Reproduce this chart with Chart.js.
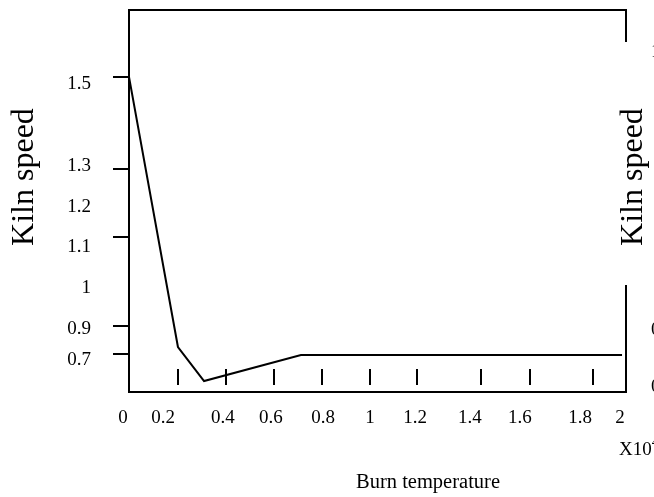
<!DOCTYPE html>
<html lang="en">
<head>
<meta charset="UTF-8" />
<title>Kiln speed</title>
<script src="https://cdn.jsdelivr.net/npm/chart.js"></script>
<style>
  html, body { margin: 0; padding: 0; background: #fff; }
  canvas { display: block; }
</style>
</head>
<body>
<canvas id="kiln" width="654" height="497"></canvas>
<script>
  // line data (x in units of 10^4)
  const burnTemp = [0, 0.197, 0.302, 0.692, 1.984];
  const kilnSpeed = [1.5, 0.723, 0.625, 0.70, 0.70];

  // tick labels and where they sit, in axis units
  const xTickLabels = ['0', '0.2', '0.4', '0.6', '0.8', '1', '1.2', '1.4', '1.6', '1.8', '2'];
  const xTickAt = [-0.024, 0.137, 0.378, 0.571, 0.781, 0.970, 1.151, 1.372, 1.573, 1.815, 1.976];
  const xMarks = [0.197, 0.390, 0.584, 0.777, 0.970, 1.159, 1.416, 1.614, 1.867];

  const yTickLabels = ['1.5', '1.3', '1.2', '1.1', '1', '0.9', '0.7'];
  const yTickAt = [1.480, 1.243, 1.126, 1.012, 0.894, 0.776, 0.685];
  const yMarks = [1.5, 1.235, 1.040, 0.784, 0.702];

  const y2TickLabels = ['1', '0.8', '0.6'];
  const y2TickAt = [1.572, 0.772, 0.608];

  const yMin = 0.5935, yMax = 1.6928;

  const serif = "'Liberation Serif', 'Times New Roman', serif";
  Chart.defaults.font.family = serif;
  Chart.defaults.color = '#000';

  const noPad = s => { s.paddingTop = 0; s.paddingBottom = 0; s.paddingLeft = 0; s.paddingRight = 0; };

  // frame pieces, inner tick marks and the titles
  const frame = {
    id: 'frame',
    afterDraw(chart) {
      const { ctx, chartArea: a, scales } = chart;
      ctx.save();
      ctx.strokeStyle = '#000';
      ctx.lineWidth = 2;
      ctx.beginPath();
      ctx.moveTo(a.left - 1, a.top); ctx.lineTo(a.right + 1, a.top);
      ctx.moveTo(a.right, a.top); ctx.lineTo(a.right, a.top + 32);
      ctx.moveTo(a.right, a.top + 275); ctx.lineTo(a.right, a.bottom + 1);
      yMarks.forEach(v => {
        const p = Math.round(scales.y.getPixelForValue(v));
        ctx.moveTo(a.left - 16, p); ctx.lineTo(a.left, p);
      });
      xMarks.forEach(v => {
        const p = Math.round(scales.x.getPixelForValue(v));
        ctx.moveTo(p, a.bottom - 23); ctx.lineTo(p, a.bottom - 7);
      });
      ctx.stroke();

      ctx.fillStyle = '#000';
      ctx.textBaseline = 'alphabetic';
      ctx.textAlign = 'center';
      ctx.font = '32px ' + serif;
      [33, 642].forEach(x => {
        ctx.save();
        ctx.translate(x, 177);
        ctx.rotate(-Math.PI / 2);
        ctx.fillText('Kiln speed', 0, 0);
        ctx.restore();
      });

      ctx.textAlign = 'left';
      ctx.font = '20.5px ' + serif;
      ctx.fillText('Burn temperature', 356, 488);
      ctx.font = '19px ' + serif;
      ctx.fillText('X10', 619, 455);
      const w = ctx.measureText('X10').width;
      ctx.font = '13px ' + serif;
      ctx.fillText('4', 619 + w, 446);
      ctx.restore();
    }
  };

  new Chart(document.getElementById('kiln'), {
    type: 'line',
    data: {
      datasets: [{
        data: burnTemp.map((x, i) => ({ x: x, y: kilnSpeed[i] })),
        borderColor: '#000',
        borderWidth: 2,
        pointRadius: 0,
        tension: 0,
        fill: false
      }]
    },
    options: {
      responsive: false,
      animation: false,
      devicePixelRatio: 1,
      layout: { padding: { top: 10, left: 0, right: 0, bottom: 0 } },
      plugins: { legend: { display: false }, tooltip: { enabled: false } },
      scales: {
        x: {
          type: 'linear',
          min: 0,
          max: 2,
          grid: { display: false, drawTicks: false },
          border: { display: true, color: '#000', width: 2 },
          afterBuildTicks: s => { s.ticks = xTickAt.map(v => ({ value: v })); },
          afterFit: s => { s.height = 105; noPad(s); },
          ticks: {
            autoSkip: false,
            maxRotation: 0,
            padding: 15,
            font: { size: 19 },
            callback: (v, i) => xTickLabels[i]
          }
        },
        y: {
          type: 'linear',
          position: 'left',
          min: yMin,
          max: yMax,
          grid: { display: false, drawTicks: false },
          border: { display: true, color: '#000', width: 2 },
          afterBuildTicks: s => { s.ticks = yTickAt.map(v => ({ value: v })); },
          afterFit: s => { s.width = 129; noPad(s); },
          ticks: {
            autoSkip: false,
            padding: 38,
            font: { size: 19 },
            callback: (v, i) => yTickLabels[i]
          }
        },
        y2: {
          type: 'linear',
          position: 'right',
          min: yMin,
          max: yMax,
          grid: { display: false, drawTicks: false },
          border: { display: false },
          afterBuildTicks: s => { s.ticks = y2TickAt.map(v => ({ value: v })); },
          afterFit: s => { s.width = 28; noPad(s); },
          ticks: {
            autoSkip: false,
            padding: 25,
            font: { size: 19 },
            callback: (v, i) => y2TickLabels[i]
          }
        }
      }
    },
    plugins: [frame]
  });
</script>
</body>
</html>
